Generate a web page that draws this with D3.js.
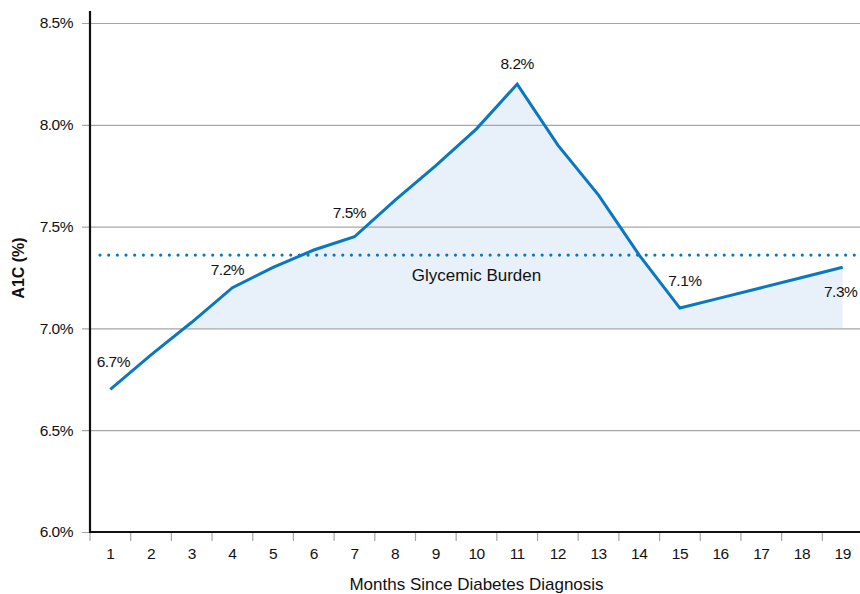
<!DOCTYPE html>
<html>
<head>
<meta charset="utf-8">
<script src="https://cdn.jsdelivr.net/npm/d3@7"></script>
<style>
  body { margin: 0; background: #fff; }
  svg { display: block; font-family: "Liberation Sans", Arial, sans-serif; }
  .small { font-size: 15.5px; letter-spacing: -0.5px; }
</style>
</head>
<body>
<div id="chart"></div>
<script>
/* A1C line chart with glycemic burden area */

const months = d3.range(1, 20);
const a1c = [6.7, 6.87, 7.03, 7.2, 7.3, 7.385, 7.45, 7.63, 7.8, 7.98,
             8.2, 7.9, 7.655, 7.36, 7.1, 7.15, 7.2, 7.25, 7.3];
const yTicks = [6.0, 6.5, 7.0, 7.5, 8.0, 8.5];
const baseline = 7.0;          // area is filled above this
const burden = 7.36;           // dotted glycemic burden level
const labelMonths = [1, 4, 7, 11, 15, 19];
const labelTexts = ["6.7%", "7.2%", "7.5%", "8.2%", "7.1%", "7.3%"];

const width = 860, height = 594,
    margin = ({ top: 23, right: 0, bottom: 62, left: 90 });

const blue = "#0a78c1";

const svg = d3.select("#chart")
    .append("svg")
    .attr("width", width)
    .attr("height", height);

let x = d3.scaleBand()
    .domain(months)
    .range([margin.left, 863]);

let y = d3.scaleLinear()
    .domain([6, 8.5])
    .range([height - margin.bottom, margin.top]);

const cx = m => x(m) + x.bandwidth() / 2;
const data = months.map((m, i) => ({ m: m, v: a1c[i] }));

// area above 7.0, clipped so nothing shows under the baseline
svg.append("clipPath")
    .attr("id", "above")
  .append("rect")
    .attr("x", 0).attr("y", 0)
    .attr("width", width)
    .attr("height", y(baseline));

svg.append("path")
    .datum(data)
    .attr("clip-path", "url(#above)")
    .attr("fill", "#e8f0fa")
    .attr("d", d3.area()
        .x(d => cx(d.m))
        .y0(y(baseline))
        .y1(d => y(d.v)));

// horizontal grid + y ticks
svg.append("g")
    .attr("transform", `translate(${margin.left},0)`)
    .call(d3.axisLeft(y)
        .tickValues(yTicks)
        .tickSize(8)
        .tickPadding(9)
        .tickFormat(d => d.toFixed(1) + "%"))
    .call(g => g.select(".domain").remove())
    .call(g => g.selectAll(".tick line")
        .attr("x2", width - margin.left)
        .attr("x1", -8)
        .attr("stroke", "#a6a6a6")
        .attr("stroke-width", 1.2))
    .call(g => g.selectAll(".tick text")
        .attr("class", "small")
        .attr("font-size", null)
        .attr("font-family", null)
        .attr("fill", "#111"));

// x axis: ticks at band edges, labels centered
const xAxis = svg.append("g")
    .attr("transform", `translate(0,${height - margin.bottom})`);

xAxis.selectAll(".edge")
    .data(months)
    .join("line")
    .attr("x1", d => x(d)).attr("x2", d => x(d))
    .attr("y1", 1).attr("y2", 9)
    .attr("stroke", "#a6a6a6")
    .attr("stroke-width", 1.2);

xAxis.selectAll(".lbl")
    .data(months)
    .join("text")
    .attr("class", "small")
    .attr("x", d => cx(d))
    .attr("y", 27)
    .attr("text-anchor", "middle")
    .attr("fill", "#111")
    .text(d => d);

xAxis.append("line")
    .attr("x1", margin.left - 1).attr("x2", width)
    .attr("stroke", "#111")
    .attr("stroke-width", 2.2);

// y axis line
svg.append("line")
    .attr("x1", margin.left).attr("x2", margin.left)
    .attr("y1", 11).attr("y2", height - margin.bottom + 1)
    .attr("stroke", "#111")
    .attr("stroke-width", 2.2);

// dotted glycemic burden line
svg.append("line")
    .attr("x1", 100).attr("x2", width)
    .attr("y1", y(burden)).attr("y2", y(burden))
    .attr("stroke", blue)
    .attr("stroke-width", 3.2)
    .attr("stroke-linecap", "round")
    .attr("stroke-dasharray", "0 8.67");

svg.append("text")
    .attr("x", cx(10))
    .attr("y", y(burden) + 26)
    .attr("text-anchor", "middle")
    .attr("font-size", 17)
    .attr("fill", "#111")
    .text("Glycemic Burden");

// main line
svg.append("path")
    .datum(data)
    .attr("fill", "none")
    .attr("stroke", blue)
    .attr("stroke-width", 3)
    .attr("stroke-linejoin", "miter")
    .attr("d", d3.line()
        .x(d => cx(d.m))
        .y(d => y(d.v)));

// value labels (nudged like the original)
const nudge = { 1: [3, -22], 4: [-5, -13], 7: [-5, -19], 11: [0, -15], 15: [5, -22], 19: [-2, 30] };

svg.selectAll(".val")
    .data(labelMonths)
    .join("text")
    .attr("class", "small")
    .attr("x", d => cx(d) + nudge[d][0])
    .attr("y", d => y(a1c[d - 1]) + nudge[d][1])
    .attr("text-anchor", "middle")
    .attr("fill", "#111")
    .text((d, i) => labelTexts[i]);

// axis titles
svg.append("text")
    .attr("x", cx(10))
    .attr("y", 590)
    .attr("text-anchor", "middle")
    .attr("font-size", 17)
    .attr("fill", "#111")
    .text("Months Since Diabetes Diagnosis");

svg.append("text")
    .attr("transform", "translate(24,268) rotate(-90)")
    .attr("text-anchor", "middle")
    .attr("font-size", 16)
    .attr("font-weight", "bold")
    .attr("fill", "#111")
    .text("A1C (%)");
</script>
</body>
</html>
